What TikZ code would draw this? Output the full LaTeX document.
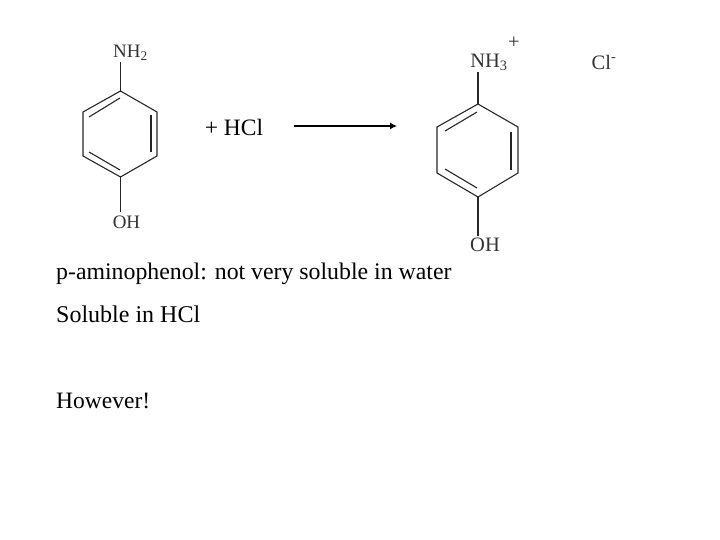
\documentclass[tikz,border=0pt]{standalone}
\usepackage{fontspec}
\setmainfont{Liberation Serif}
\usetikzlibrary{arrows.meta}
\tikzset{
  bond/.style={draw,line width=1.1pt,black!85},
  label/.style={inner sep=0pt,font=\fontsize{19}{21}\selectfont,text=black!80},
  biglabel/.style={inner sep=0pt,font=\fontsize{20.5}{23}\selectfont,text=black!80},
  slide/.style={inner sep=0pt,anchor=base west,font=\fontsize{23.5}{26}\selectfont},
}
\begin{document}
\begin{tikzpicture}[x=1pt,y=-1pt]
      \useasboundingbox (0,0) rectangle (720,540);

      % left molecule
      \begin{scope}[every node/.style={label}]
        \node (nh2) at (130.5,52.5)  {NH\textsubscript{2}};
        \node (oh)  at (126.5,222) {OH};
      \end{scope}
      \coordinate (a1) at (120.5,91);
      \coordinate (a2) at (157,112);
      \coordinate (a3) at (157,156);
      \coordinate (a4) at (120.5,177);
      \coordinate (a5) at (83,156);
      \coordinate (a6) at (83,112);
      \coordinate (a7) at (120.5,62);
      \coordinate (a8) at (120.5,212);
      \coordinate (b1) at (89,117);
      \coordinate (b2) at (120,98);
      \coordinate (b3) at (151,115);
      \coordinate (b4) at (151,152);
      \coordinate (b5) at (89,152);
      \coordinate (b6) at (120,170);
      \begin{scope}[every path/.style={bond}]
        \path (a1) -- (a2) -- (a3) -- (a4) -- (a5) -- (a6) -- cycle;
        \path (a7) -- (a1);
        \path (a4) -- (a8);
        \path (b1) -- (b2);
        \path (b3) -- (b4);
        \path (b5) -- (b6);
      \end{scope}

      % right molecule
      \begin{scope}[every node/.style={biglabel}]
        \node (nh3)  at (489,62.5)   {NH\textsubscript{3}};
        \node (plus) at (514,42.5)   {+};
        \node (cl)   at (604,62.5)   {Cl\textsuperscript{-}};
        \node (oh2)  at (485,245)  {OH};
      \end{scope}
      \coordinate (c1) at (478,104);
      \coordinate (c2) at (518,127);
      \coordinate (c3) at (518,173);
      \coordinate (c4) at (478,197);
      \coordinate (c5) at (437,173);
      \coordinate (c6) at (437,127);
      \coordinate (c7) at (478,72);
      \coordinate (c8) at (478,236);
      \coordinate (d1) at (445,131);
      \coordinate (d2) at (477,112);
      \coordinate (d3) at (511,132);
      \coordinate (d4) at (511,170);
      \coordinate (d5) at (445,169);
      \coordinate (d6) at (477,188);
      \begin{scope}[every path/.style={bond}]
        \path (c1) -- (c2) -- (c3) -- (c4) -- (c5) -- (c6) -- cycle;
        \path (c7) -- (c1);
        \path (c4) -- (c8);
        \path (d1) -- (d2);
        \path (d3) -- (d4);
        \path (d5) -- (d6);
      \end{scope}

      % reaction
      \node[inner sep=0pt,font=\fontsize{23.5}{26}\selectfont] (hcl) at (234,127) {+ HCl};
      \coordinate (from) at (294,126);
      \coordinate (to)   at (397,126);
      \draw[line width=1.3pt,-{Latex[length=7pt,width=7pt]}] (from) -- (to);

      % slide text
      \begin{scope}[every node/.style={slide}]
        \node[font=\fontsize{23.8}{26}\selectfont] (line1) at (56,279.5) {p-aminophenol: not very soluble in water};
        \node[font=\fontsize{24}{26}\selectfont] (line2) at (56,322) {Soluble in HCl};
        \node (line3) at (56,408) {However!};
      \end{scope}

    \end{tikzpicture}
\end{document}
